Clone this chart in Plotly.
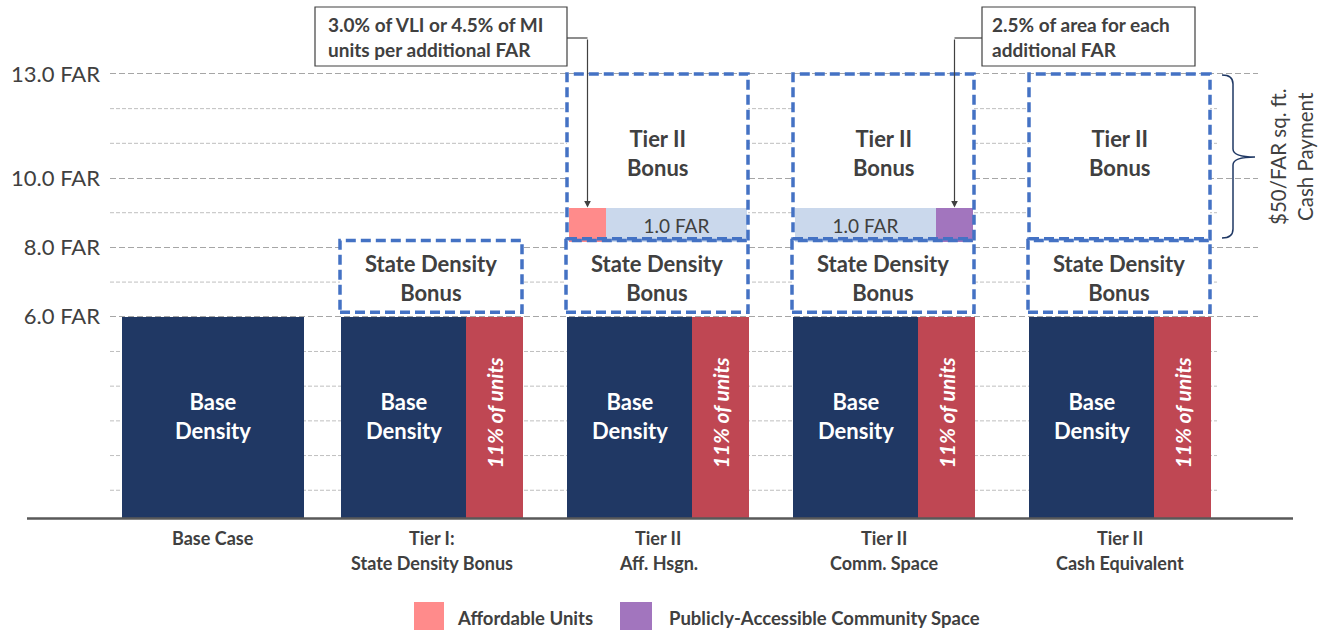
import plotly.graph_objects as go

# ---- data -------------------------------------------------------------
categories = [
    "Base Case",
    "Tier I:\nState Density Bonus",
    "Tier II\nAff. Hsgn.",
    "Tier II\nComm. Space",
    "Tier II\nCash Equivalent",
]
base_far = [6.0, 6.0, 6.0, 6.0, 6.0]
inclusionary_far = [None, 6.0, 6.0, 6.0, 6.0]
inclusionary_label = "11% of units"
state_bonus_far = [None, 8.0, 8.0, 8.0, 8.0]
tier2_far = [None, None, 13.0, 13.0, 13.0]
option_far = [None, None, 1.0, 1.0, None]
option_kind = [None, None, "Affordable Units", "Publicly-Accessible Community Space", None]
far_ticks = [6.0, 8.0, 10.0, 13.0]
far_tick_labels = ["6.0 FAR", "8.0 FAR", "10.0 FAR", "13.0 FAR"]
callouts = {
    "Affordable Units": "3.0% of VLI or 4.5% of MI<br>units per additional FAR",
    "Publicly-Accessible Community Space": "2.5% of area for each<br>additional FAR",
}
cash_note = ["$50/FAR sq. ft.", "Cash Payment"]

# ---- styling ----------------------------------------------------------
NAVY = "#203864"
RED = "#BF4753"
STRIP = "#CAD8EC"
KIND_COLORS = {"Affordable Units": "#FF8B8B",
               "Publicly-Accessible Community Space": "#A275BE"}
BOX = "#4472C4"
TXT = "#404040"
FONT = "Lato"

W, H = 1322, 630
PL, PR, PT, PB = 110, 1258, 67, 518          # plot area edges (px)
Y0, Y1 = 0.2, 13.2                           # FAR range

def xp(px):
    return (px - PL) / (PR - PL)

def yp(py):
    return (PB - py) / (PB - PT)

# group geometry (x axis is in layout units equal to pixels)
group_left = [122, 341, 567, 793, 1029]
group_w = 182
navy_w = 125
red_w = group_w - navy_w

navy_x, navy_wid, red_x, red_y = [], [], [], []
for i, g in enumerate(group_left):
    if inclusionary_far[i] is None:
        navy_x.append(g + group_w / 2)
        navy_wid.append(group_w)
    else:
        navy_x.append(g + navy_w / 2)
        navy_wid.append(navy_w)
        red_x.append(g + navy_w + red_w / 2)
        red_y.append(inclusionary_far[i])

fig = go.Figure()

fig.add_trace(go.Bar(
    x=navy_x, y=base_far, width=navy_wid, marker=dict(color=NAVY, line=dict(width=0)),
    hoverinfo="skip", showlegend=False,
))
fig.add_trace(go.Bar(
    x=red_x, y=red_y, width=[red_w] * len(red_x), marker=dict(color=RED, line=dict(width=0)),
    hoverinfo="skip", showlegend=False,
))

# 1.0 FAR strips with the requirement key at one end
inset, key_w = 2, 37
strip_x, strip_w, strip_base, strip_y = [], [], [], []
key_x, key_base, key_y, key_col, key_tip = [], [], [], [], []
for i, g in enumerate(group_left):
    if option_far[i] is None:
        continue
    b = state_bonus_far[i] + 0.15
    a, z = g + inset, g + group_w - inset
    if i == 2:
        k0, k1, s0, s1 = a, a + key_w, a + key_w, z
    else:
        k0, k1, s0, s1 = z - key_w, z, a, z - key_w
    strip_x.append((s0 + s1) / 2); strip_w.append(s1 - s0)
    strip_base.append(b); strip_y.append(option_far[i])
    key_x.append((k0 + k1) / 2); key_base.append(b); key_y.append(option_far[i])
    key_col.append(KIND_COLORS[option_kind[i]])
    key_tip.append(((k0 + k1) / 2, b + option_far[i], option_kind[i]))

fig.add_trace(go.Bar(
    x=strip_x, y=strip_y, base=strip_base, width=strip_w,
    marker=dict(color=STRIP, line=dict(width=0)),
    text=[f"{v:.1f} FAR" for v in strip_y], textposition="inside",
    insidetextanchor="middle",
    textfont=dict(family=FONT, size=19, color=TXT),
    hoverinfo="skip", showlegend=False,
))
fig.add_trace(go.Bar(
    x=key_x, y=key_y, base=key_base, width=[key_w] * len(key_x),
    marker=dict(color=key_col, line=dict(width=0)),
    hoverinfo="skip", showlegend=False,
))

shapes = []
annotations = []

# labels inside the base-density and inclusionary bars
for x, v in zip(navy_x, base_far):
    annotations.append(dict(xref="x", yref="y", x=x, y=v / 2, yshift=5,
                            text="Base<br>Density", showarrow=False,
                            font=dict(family=FONT, size=22, color="white", weight="bold")))
for x, v in zip(red_x, red_y):
    annotations.append(dict(xref="x", yref="y", x=x, y=v / 2, yshift=8, textangle=-90,
                            text=inclusionary_label, showarrow=False,
                            font=dict(family=FONT, size=21, color="white", weight="bold",
                                      style="italic")))

# minor gridlines
for v in range(1, 14):
    if float(v) in far_ticks:
        continue
    shapes.append(dict(type="line", xref="x", yref="y", x0=PL, x1=1217, y0=v, y1=v,
                       line=dict(color="#BFBFBF", width=1, dash="4px,2px"), layer="between"))

# dashed bonus boxes
def bonus_box(x0, x1, y0, y1, label, yshift):
    shapes.append(dict(type="rect", xref="x", yref="y", x0=x0, x1=x1, y0=y0, y1=y1,
                       fillcolor="white", line=dict(width=0), layer="between"))
    shapes.append(dict(type="rect", xref="x", yref="y", x0=x0, x1=x1, y0=y0, y1=y1,
                       line=dict(color=BOX, width=3.5, dash="10px,5px"), layer="above"))
    annotations.append(dict(xref="x", yref="y", x=(x0 + x1) / 2, y=(y0 + y1) / 2,
                            text=label, showarrow=False, yshift=yshift,
                            font=dict(family=FONT, size=22, color=TXT, weight="bold")))

for i, g in enumerate(group_left):
    if state_bonus_far[i] is not None:
        bonus_box(g - 1, g + group_w - 1, base_far[i] + 0.13, state_bonus_far[i] + 0.2,
                  "State Density<br>Bonus", -2)
    if tier2_far[i] is not None:
        bonus_box(g, g + group_w - 1, state_bonus_far[i] + 0.25, tier2_far[i],
                  "Tier II<br>Bonus", 3)

# baseline
shapes.append(dict(type="line", xref="paper", yref="paper", x0=xp(27), x1=xp(1293),
                   y0=yp(518.5), y1=yp(518.5), line=dict(color="#595959", width=2.5)))

# category labels under the groups
for i, g in enumerate(group_left):
    for j, line in enumerate(categories[i].split("\n")):
        annotations.append(dict(xref="x", yref="paper", x=g + group_w / 2, y=yp(538 + 25 * j),
                                text=line, showarrow=False, xanchor="center", yanchor="middle",
                                font=dict(family=FONT, size=18, color=TXT, weight="bold")))

# callouts for the requirement keys
callout_box = {
    "Affordable Units": (315, 567, 7, 66, 326),
    "Publicly-Accessible Community Space": (982, 1195, 7, 66, 990),
}
for tx, ty, kind in key_tip:
    bx0, bx1, by0, by1, tx0 = callout_box[kind]
    shapes.append(dict(type="rect", xref="paper", yref="paper",
                       x0=xp(bx0), x1=xp(bx1), y0=yp(by1), y1=yp(by0),
                       line=dict(color="#404040", width=1.2), fillcolor="white"))
    annotations.append(dict(xref="paper", yref="paper", x=xp(tx0), y=yp((by0 + by1) / 2),
                            xanchor="left", yanchor="middle", align="left",
                            text=callouts[kind], showarrow=False,
                            font=dict(family=FONT, size=19, color=TXT, weight="bold")))
    ey = 38
    edge = bx1 if tx > bx1 else bx0
    shapes.append(dict(type="line", xref="paper", yref="paper", x0=xp(edge), x1=xp(tx),
                       y0=yp(ey), y1=yp(ey), line=dict(color="#404040", width=1.2)))
    tip_px = PB - (ty - Y0) * (PB - PT) / (Y1 - Y0)
    annotations.append(dict(xref="x", yref="y", x=tx, y=ty, ax=0, ay=-(tip_px - ey),
                            text="", showarrow=True, arrowhead=2, arrowsize=1.1,
                            arrowwidth=1.2, arrowcolor="#404040", standoff=0))

# brace for the cash option
bx, tip_x, top, bot, mid = 1233, 1255, 75, 238, 157
pts = (f"M {xp(1222)},{yp(top)} Q {xp(bx)},{yp(top)} {xp(bx)},{yp(top + 9)} "
       f"L {xp(bx)},{yp(mid - 8)} Q {xp(bx)},{yp(mid)} {xp(tip_x)},{yp(mid)} "
       f"Q {xp(bx)},{yp(mid)} {xp(bx)},{yp(mid + 8)} "
       f"L {xp(bx)},{yp(bot - 9)} Q {xp(bx)},{yp(bot)} {xp(1222)},{yp(bot)}")
shapes.append(dict(type="path", xref="paper", yref="paper", path=pts,
                   line=dict(color="#1F3864", width=1.5)))
for k, line in enumerate(cash_note):
    annotations.append(dict(xref="paper", yref="paper", x=xp(1278 + 27 * k), y=yp(mid),
                            xanchor="center", yanchor="middle",
                            text=line, showarrow=False, textangle=-90,
                            font=dict(family=FONT, size=20.5, color=TXT)))

# legend keys
legend_items = [("Affordable Units", 414, 444, 455),
                ("Publicly-Accessible Community Space", 620, 652, 667)]
for kind, k0, k1, t0 in legend_items:
    shapes.append(dict(type="rect", xref="paper", yref="paper",
                       x0=xp(k0), x1=xp(k1), y0=yp(634), y1=yp(602),
                       fillcolor=KIND_COLORS[kind], line=dict(width=0)))
    annotations.append(dict(xref="paper", yref="paper", x=xp(t0), y=yp(618),
                            xanchor="left", yanchor="middle", text=kind, showarrow=False,
                            font=dict(family=FONT, size=18.5, color=TXT, weight="bold")))

fig.update_layout(
    width=W, height=H,
    margin=dict(l=PL, r=W - PR, t=PT, b=H - PB, pad=0),
    paper_bgcolor="white", plot_bgcolor="white",
    barmode="overlay", bargap=0,
    shapes=shapes, annotations=annotations,
    showlegend=False,
    xaxis=dict(range=[PL, PR], showgrid=False, zeroline=False, showticklabels=False,
               showline=False, fixedrange=True),
    yaxis=dict(range=[Y0, Y1], tickvals=far_ticks, ticktext=far_tick_labels,
               showgrid=True, gridcolor="#A6A6A6", gridwidth=1.3, griddash="6px,3px",
               zeroline=False, showline=False, ticks="", ticklabelstandoff=9,
               tickfont=dict(family=FONT, size=22, color=TXT), fixedrange=True),
    uniformtext=dict(mode=False),
)

fig.write_html("out.html")
